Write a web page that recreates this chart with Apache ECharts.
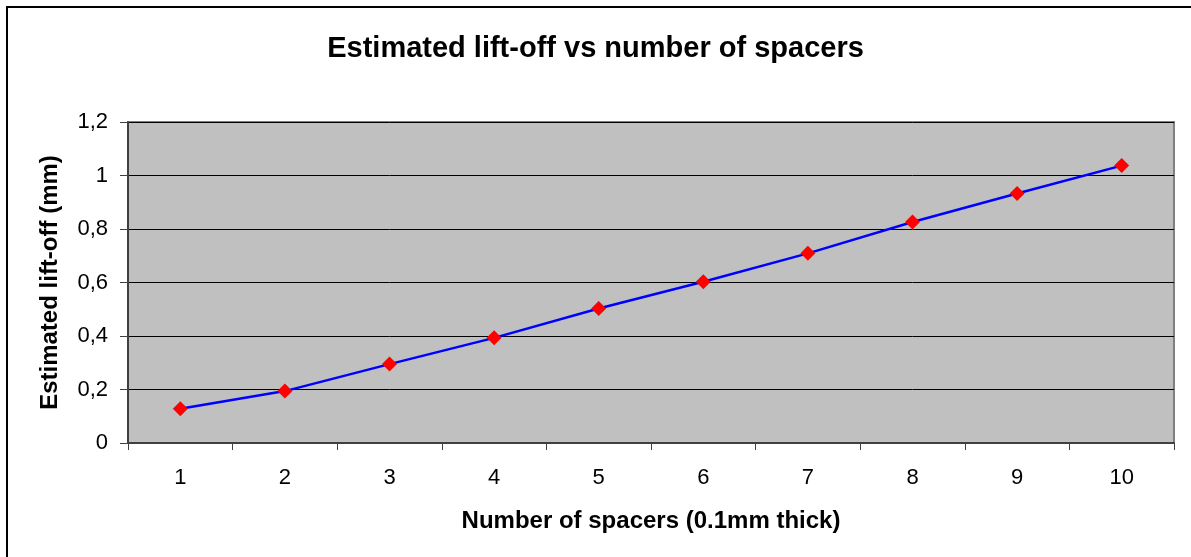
<!DOCTYPE html>
<html>
<head>
<meta charset="utf-8">
<script src="https://cdn.jsdelivr.net/npm/echarts@6/dist/echarts.min.js"></script>
<style>
html,body{margin:0;padding:0;background:#fff;}
#chart{width:1191px;height:557px;}
</style>
</head>
<body>
<div id="chart"></div>
<script>
const categories = ['1','2','3','4','5','6','7','8','9','10'];
const liftOff = [0.128, 0.194, 0.295, 0.393, 0.503, 0.603, 0.709, 0.826, 0.933, 1.037];
const yTicks = { min: 0, max: 1.2, interval: 0.2 };
const titleText = 'Estimated lift-off vs number of spacers';
const xName = 'Number of spacers (0.1mm thick)';
const yName = 'Estimated lift-off (mm)';

const FONT = '"Liberation Sans", Arial, sans-serif';
const chart = echarts.init(document.getElementById('chart'), null, {renderer: 'canvas'});
chart.setOption({
  animation: false,
  backgroundColor: '#ffffff',
  graphic: [{
    type: 'rect', silent: true, z: -10,
    shape: {x: 7, y: 7, width: 1200, height: 600},
    style: {fill: 'none', stroke: '#000', lineWidth: 2}
  }],
  title: {
    text: titleText, left: 'center', top: 29,
    textStyle: {fontFamily: FONT, fontSize: 29, fontWeight: 'bold', color: '#000'}
  },
  grid: {
    left: 128, right: 17, top: 122, bottom: 114,
    show: true, backgroundColor: '#C0C0C0', borderColor: '#808080', borderWidth: 2
  },
  xAxis: {
    type: 'category', data: categories, boundaryGap: true,
    name: xName, nameLocation: 'middle', nameGap: 66,
    nameTextStyle: {fontFamily: FONT, fontSize: 24, fontWeight: 'bold', color: '#000'},
    axisLine: {lineStyle: {color: '#404040', width: 2}},
    axisTick: {show: true, length: 7, inside: false, lineStyle: {color: '#404040', width: 1}},
    axisLabel: {fontFamily: FONT, fontSize: 22, color: '#000', margin: 24},
    splitLine: {show: false}
  },
  yAxis: {
    type: 'value', min: yTicks.min, max: yTicks.max, interval: yTicks.interval,
    name: yName, nameLocation: 'middle', nameGap: 66, nameRotate: 90,
    nameTextStyle: {fontFamily: FONT, fontSize: 24, fontWeight: 'bold', color: '#000'},
    axisLine: {show: true, lineStyle: {color: '#404040', width: 2}},
    axisTick: {show: true, length: 8, lineStyle: {color: '#404040', width: 1}},
    axisLabel: {
      fontFamily: FONT, fontSize: 22, color: '#000', margin: 20,
      formatter: v => String(Math.round(v * 10) / 10).replace('.', ',')
    },
    splitLine: {show: true, lineStyle: {color: '#000', width: 1}}
  },
  series: [{
    type: 'line', data: liftOff,
    symbol: 'diamond', symbolSize: 15,
    itemStyle: {color: '#FF0000'},
    lineStyle: {color: '#0000FF', width: 2.5}
  }]
});
</script>
</body>
</html>
